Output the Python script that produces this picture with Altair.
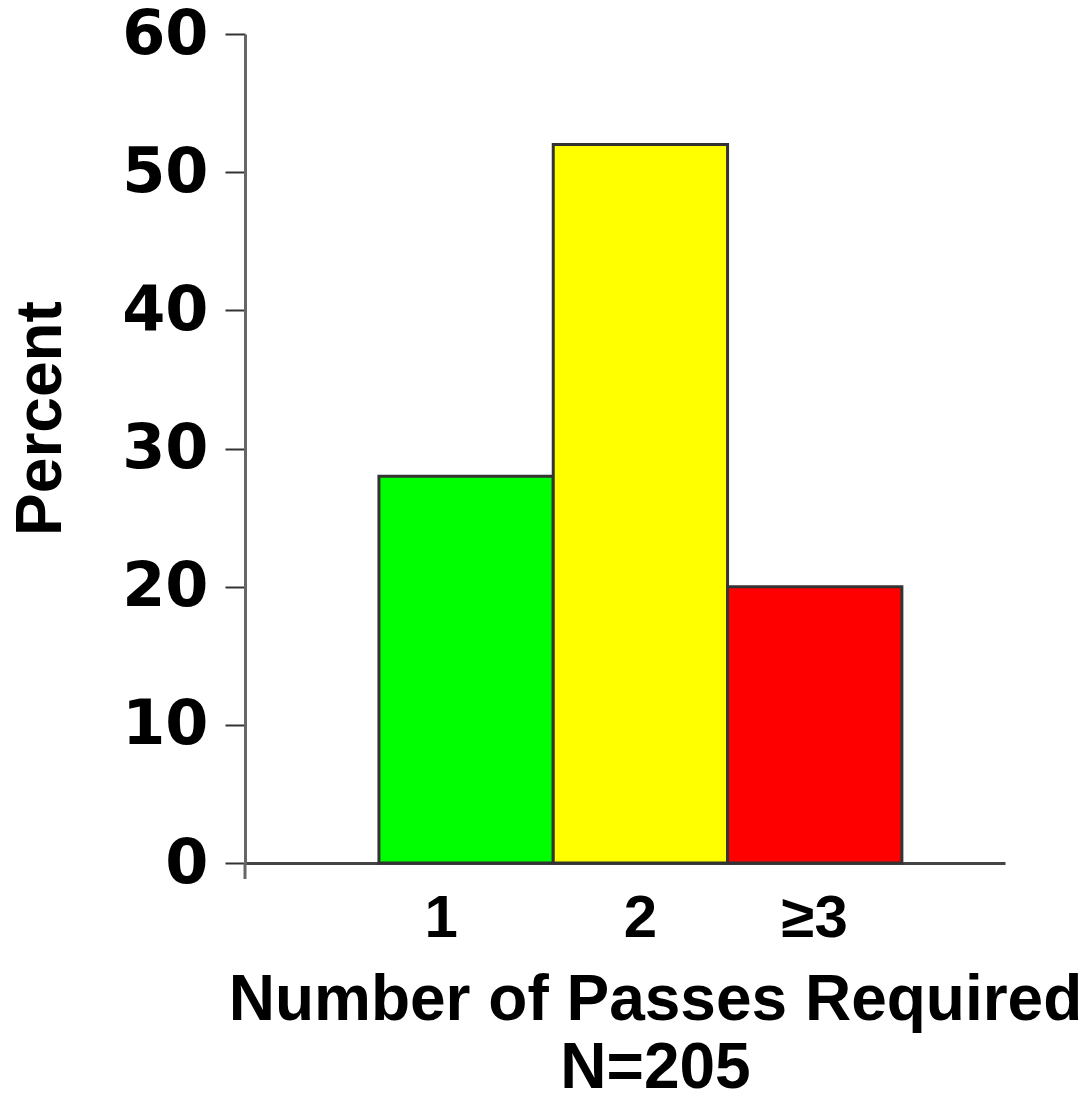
import altair as alt
import pandas as pd

# Share of cases by number of passes required (N=205)
categories = ["1", "2", "≥3"]
percents = [28, 52, 20]
bar_colors = ["#00ff00", "#ffff00", "#ff0000"]

df = pd.DataFrame({"passes": categories, "percent": percents})

x_enc = alt.X(
    "passes:N",
    sort=categories,
    scale=alt.Scale(paddingInner=0, paddingOuter=0.68, align=0.565),
    axis=alt.Axis(
        title=["Number of Passes Required", "N=205"],
        titleFont="Liberation Sans",
        titleFontWeight="bold",
        titleFontSize=64,
        titleColor="#000000",
        titleLineHeight=68,
        titleAnchor="middle",
        titleX=410,
        titleY=156,
        titleBaseline="alphabetic",
        labelAngle=0,
        labelFont="Liberation Sans",
        labelFontWeight="bold",
        labelFontSize=60,
        labelColor="#000000",
        labelPadding=26,
        labelOffset={"condition": {"test": "datum.value == '1'", "value": -25}, "value": 0},
        ticks=False,
        domainColor="#444444",
        domainWidth=3,
        grid=False,
    ),
)

y_enc = alt.Y(
    "percent:Q",
    scale=alt.Scale(domain=[0, 60], nice=False),
    axis=alt.Axis(
        values=[0, 10, 20, 30, 40, 50, 60],
        title="Percent",
        titleFont="Liberation Sans",
        titleFontWeight="bold",
        titleFontSize=64,
        titleColor="#000000",
        titleAngle=270,
        titleAlign="center",
        titleBaseline="middle",
        titleX=-204,
        titleY=384,
        labelFont="DejaVu Sans",
        labelFontWeight="bold",
        labelFontSize=62,
        labelColor="#000000",
        labelPadding=17,
        tickSize=20,
        tickWidth=2,
        tickColor="#333333",
        domainColor="#666666",
        domainWidth=3,
        grid=False,
    ),
)

bars = alt.Chart(df).mark_bar(stroke="#333333", strokeWidth=3).encode(
    x=x_enc,
    y=y_enc,
    color=alt.Color(
        "passes:N",
        sort=categories,
        scale=alt.Scale(domain=categories, range=bar_colors),
        legend=None,
    ),
)

# small extension of the vertical axis line below the baseline
axis_stub = alt.Chart(alt.Data(values=[{}])).mark_rule(
    color="#666666", strokeWidth=3
).encode(x=alt.value(0), y=alt.value(829), y2=alt.value(845))

chart = (
    alt.layer(axis_stub, bars)
    .properties(
        width=760,
        height=829,
        autosize=alt.AutoSizeParams(type="none"),
        padding={"left": 245, "top": 34, "right": 85, "bottom": 230},
        background="#ffffff",
    )
    .configure_view(stroke=None)
)

chart.save("out.html", embed_options={"renderer": "svg", "actions": False})
